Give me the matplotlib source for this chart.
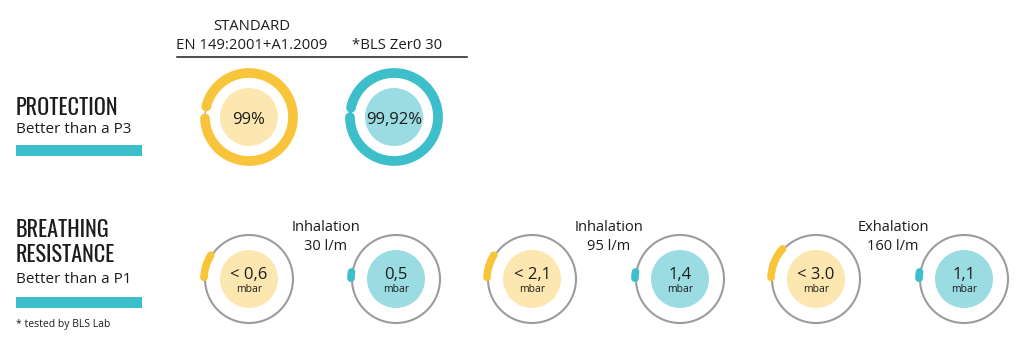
import matplotlib
matplotlib.use('Agg')
import matplotlib.pyplot as plt
from matplotlib.patches import Circle, Arc, Rectangle

# protection values (percent) for the two top rings
prot_labels = ['EN 149:2001+A1.2009', '*BLS Zer0 30']
prot_values = [99, 99.92]
prot_text = ['99%', '99,92%']

# breathing resistance, mbar: standard limit vs BLS
flow_titles = ['Inhalation\n30 l/m', 'Inhalation\n95 l/m', 'Exhalation\n160 l/m']
limit_text = ['< 0,6', '< 2,1', '< 3.0']
bls_text = ['0,5', '1,4', '1,1']

YELLOW = '#F8C53A'
YELLOW_LT = '#FDE7B0'
TEAL = '#3CBFCB'
TEAL_LT = '#9ADCE2'
GREY = '#9c9c9c'
INK = '#1c1c1c'

fig = plt.figure(figsize=(10.24, 3.57), dpi=100)
ax = fig.add_axes([0, 0, 1, 1])
ax.set_xlim(0, 1024)
ax.set_ylim(357, 0)
ax.set_aspect('equal')
ax.axis('off')

body = ['Open Sans', 'DejaVu Sans']


def arc(cx, cy, r, a1, a2, color, lw, cap='round'):
    # angles in "visual" degrees (ccw, y up); y axis is inverted so flip them
    ax.add_patch(Arc((cx, cy), 2 * r, 2 * r, theta1=-a2, theta2=-a1,
                     color=color, lw=lw, capstyle=cap, zorder=3))


# left side labels
ttl = dict(family=['Oswald', 'Asap Condensed', 'DejaVu Sans'], fontsize=16, color=INK, va='baseline')
ax.text(16, 115, 'PROTECTION', **ttl)
ax.text(16, 133, 'Better than a P3', family=body, fontsize=11, color=INK, va='baseline')
ax.add_patch(Rectangle((16, 145), 126, 11, color=TEAL, lw=0))

ax.text(16, 237, 'BREATHING', **ttl)
ax.text(16, 262, 'RESISTANCE', **ttl)
ax.text(16, 283, 'Better than a P1', family=body, fontsize=11, color=INK, va='baseline')
ax.add_patch(Rectangle((16, 297), 126, 11, color=TEAL, lw=0))
ax.text(16, 327, '* tested by BLS Lab', family=body, fontsize=7.5, color=INK, va='baseline')

# header
ax.text(252, 30, 'STANDARD', family=body, fontsize=10.7, color=INK, ha='center', va='baseline')
ax.plot([177, 467], [57, 57], color=INK, lw=1.1)

top_x = [249, 394]
top_cols = [(YELLOW, YELLOW_LT), (TEAL, TEAL_LT)]
for i in range(2):
    cx, cy = top_x[i], 117
    ax.text(cx + 3, 49, prot_labels[i], family=body, fontsize=10.7, color=INK, ha='center', va='baseline')
    ax.add_patch(Circle((cx, cy), 44, fill=False, ec=GREY, lw=0.8, zorder=2))
    gap = 12 + (100 - prot_values[i]) * 3.6
    arc(cx, cy, 44, 174 + gap / 2, 534 - gap / 2, top_cols[i][0], 7)
    ax.add_patch(Circle((cx, cy), 29, color=top_cols[i][1], lw=0, zorder=2))
    ax.text(cx, 124, prot_text[i], family=body, fontsize=12, color=INK, ha='center', va='baseline', zorder=4)

# bottom rings
pair_x = [(249, 396), (532, 680), (816, 964)]
title_x = [326, 609, 893]
limit_span = [(148, 178), (148, 178), (138, 178)]
cy = 279
for k in range(3):
    t1, t2 = flow_titles[k].split('\n')
    ax.text(title_x[k], 231, t1, family=body, fontsize=10.5, color=INK, ha='center', va='baseline')
    ax.text(title_x[k], 250, t2, family=body, fontsize=10.5, color=INK, ha='center', va='baseline')
    for j in range(2):
        cx = pair_x[k][j]
        ax.add_patch(Circle((cx, cy), 44, fill=False, ec=GREY, lw=1.5, zorder=2))
        if j == 0:
            arc(cx, cy, 45, limit_span[k][0], limit_span[k][1], YELLOW, 5.5)
            fill = YELLOW_LT
            txt = limit_text[k]
        else:
            arc(cx, cy, 45, 171, 179, TEAL, 5.5)
            fill = TEAL_LT
            txt = bls_text[k]
        ax.add_patch(Circle((cx, cy), 29, color=fill, lw=0, zorder=2))
        ax.text(cx, 279, txt, family=body, fontsize=12, color=INK, ha='center', va='baseline', zorder=4)
        ax.text(cx, 292, 'mbar', family=body, fontsize=7.5, color=INK, ha='center', va='baseline', zorder=4)

fig.savefig('out.png', dpi=100, facecolor='white')
